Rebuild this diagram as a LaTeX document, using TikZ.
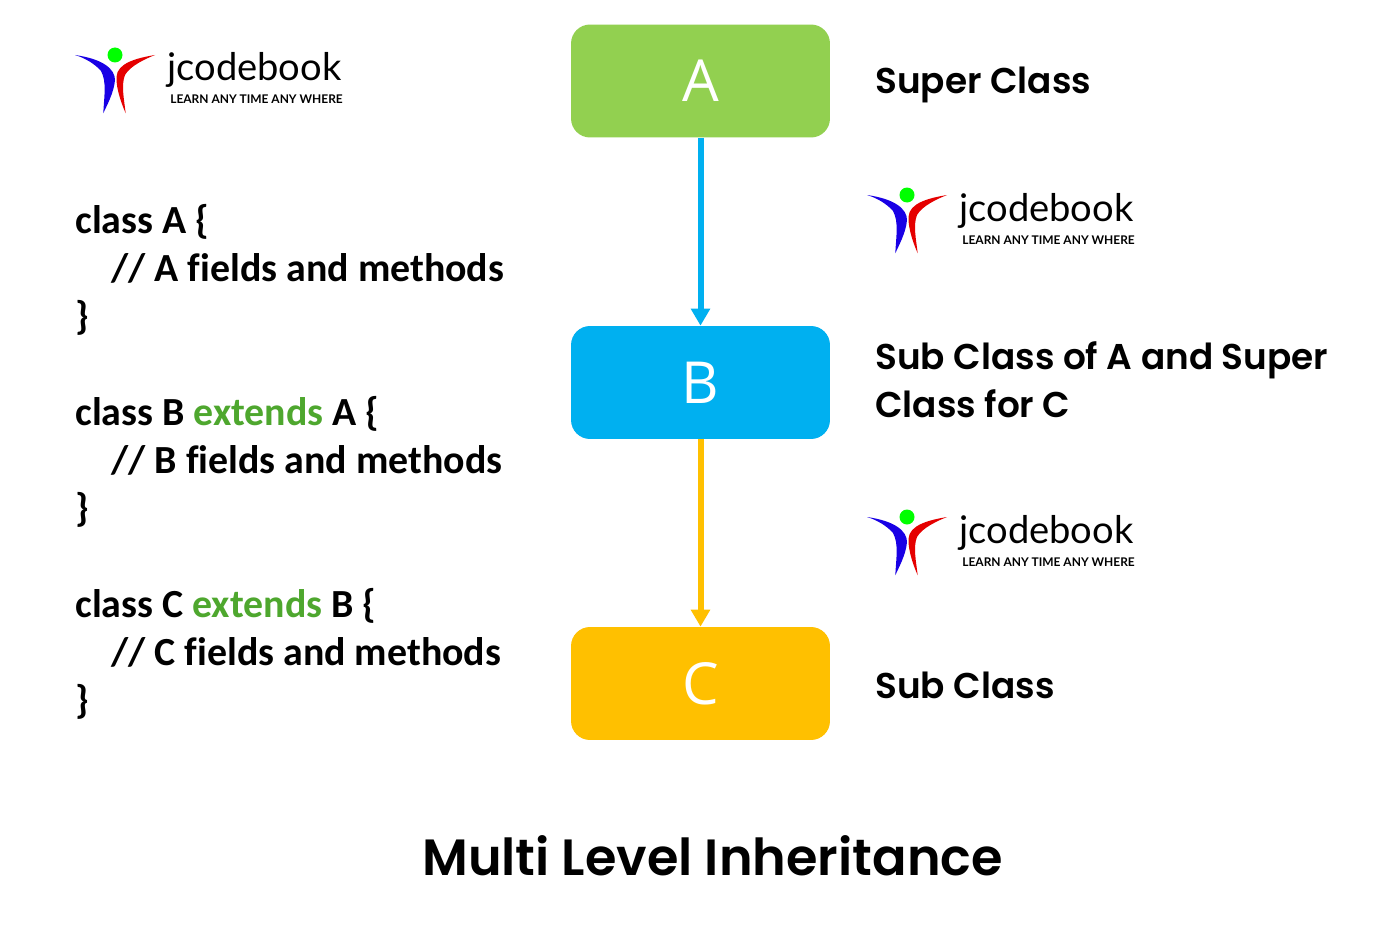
\documentclass[tikz,border=0pt]{standalone}
\usepackage{fontspec}
\usepackage{xcolor}
\usetikzlibrary{arrows.meta}
\setmainfont{Open Sans}
\newfontfamily\codefont[Ligatures=NoCommon]{Carlito}
\newfontfamily\logofont{Lato}
\newfontfamily\rolefont{Poppins SemiBold}
\definecolor{boxgreen}{HTML}{92D050}
\definecolor{boxblue}{HTML}{00B0F0}
\definecolor{boxyellow}{HTML}{FFC000}
\definecolor{kwgreen}{HTML}{4EA72E}
\tikzset{>={Triangle[length=.34cm,width=.37cm]}}
\tikzset{classbox/.style={rounded corners=.38cm,minimum width=5.18cm,minimum height=2.26cm,
    inner sep=0pt,text=white,font=\fontsize{33}{33}\selectfont}}
\tikzset{codetext/.style={anchor=base west,inner sep=0pt,font=\codefont\bfseries\fontsize{22.7}{24}\selectfont}}
\tikzset{roletext/.style={anchor=base west,inner sep=0pt,font=\rolefont\fontsize{20.4}{24}\selectfont}}
\tikzset{link/.style={line width=.12cm,->}}
\tikzset{
  jlogo/.pic={
    \fill[red!10!blue] (0,8) .. controls (28,12) and (40,22) .. (40,33)
      .. controls (39,46) and (31,60) .. (28.3,66.3)
      .. controls (29,50) and (32,35) .. (26,24) .. controls (20,17) and (10,11) .. (0,8);
    \fill[red!90!black] (80,8) .. controls (62,11) and (42,16) .. (41.5,30)
      .. controls (41,42) and (47,58) .. (50.7,66.3)
      .. controls (49,52) and (46,38) .. (50,28) .. controls (55,19) and (70,12) .. (80,8);
    \fill[green] (40,8) circle (7.5);
    \node[anchor=base west,inner sep=0pt,font=\logofont\fontsize{21.7}{24}\selectfont] (-name) at (92,34) {jcodebook};
    \node[anchor=base west,inner sep=0pt,font=\logofont\bfseries\fontsize{6.8}{8}\selectfont] (-slogan) at (95,57) {LEARN ANY TIME ANY WHERE};
  }
}
\begin{document}
\begin{tikzpicture}[x=.02cm,y=-.02cm]
\useasboundingbox[fill=white] (0,0) rectangle (1385,926);
\node[classbox,fill=boxgreen] (A) at (700.5,81) {A};
\node[classbox,fill=boxblue] (B) at (700.5,382.5) {B};
\node[classbox,fill=boxyellow] (C) at (700.5,683.5) {C};
\draw[link,boxblue] (A) -- (B);
\draw[link,boxyellow] (B) -- (C);
\pic (logoA) at (75,47) {jlogo};
\pic (logoB) at (867,187) {jlogo};
\pic (logoC) at (867,509) {jlogo};
\node[codetext] (a1) at (75,233.5) {class A \{};
\node[codetext] (a2) at (111,281.5) {// A fields and methods};
\node[codetext] (a3) at (75,329.5) {\}};
\node[codetext] (b1) at (75,425.5) {class B \textcolor{kwgreen}{extends} A \{};
\node[codetext] (b2) at (111,473.5) {// B fields and methods};
\node[codetext] (b3) at (75,521.5) {\}};
\node[codetext] (c1) at (75,617.5) {class C \textcolor{kwgreen}{extends} B \{};
\node[codetext] (c2) at (111,665.5) {// C fields and methods};
\node[codetext] (c3) at (75,713.5) {\}};
\node[roletext] (superrole) at (875,93) {Super Class};
\node[roletext] (midrole1) at (875,369) {Sub Class of A and Super};
\node[roletext] (midrole2) at (875,417) {Class for C};
\node[roletext] (subrole) at (875,698) {Sub Class};
\node[anchor=base,inner sep=0pt,font=\rolefont\fontsize{29}{32}\selectfont] (title) at (712.5,875) {Multi Level Inheritance};
\end{tikzpicture}
\end{document}
